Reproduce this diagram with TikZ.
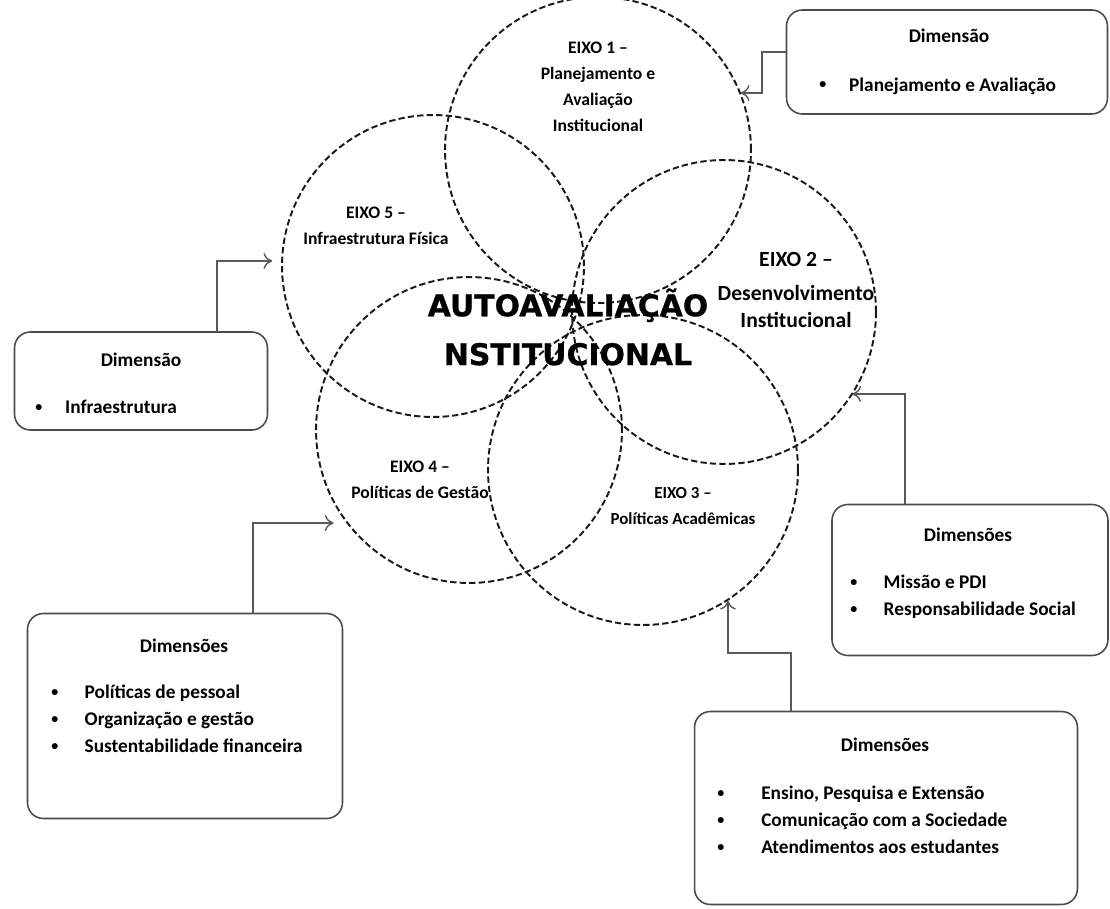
\documentclass[tikz,border=0pt]{standalone}
\usepackage{fontspec}
\setmainfont{Carlito}
\newfontfamily\titlefont[FakeBold=0.8]{DejaVu Sans Bold}
\newcommand{\bul}[1][10pt]{\raisebox{0.12em}{\fontsize{8}{8}\selectfont\textbullet}\hspace{#1}}
\usetikzlibrary{arrows.meta}

\tikzset{
  eixo/.style={circle, draw=black!90, line width=1.1pt, dash pattern=on 3.6pt off 1.8pt, inner sep=0pt},
  dimbox/.style={draw=black!70, line width=0.9pt, rounded corners=9pt, inner sep=0pt},
  boxtitle/.style={font=\bfseries\fontsize{11}{13}\selectfont},
  boxlist/.style={font=\bfseries\fontsize{11}{15.3}\selectfont, align=left, anchor=west, inner sep=0pt},
  eixolabel/.style={font=\bfseries\fontsize{10}{14.7}\selectfont, align=center, inner sep=0pt},
  link/.style={draw=black!65, line width=0.8pt, -{To[length=5pt, width=9pt]}},
}

\begin{document}
\begin{tikzpicture}[x=0.02cm, y=-0.02cm]
\useasboundingbox (0,0) rectangle (1110,909);

% eixos
\node[eixo, minimum size=6.12cm] (e1) at (598,150) {};
\node[eixo, minimum size=6.04cm] (e5) at (433,266) {};
\node[eixo, minimum size=6.08cm] (e2) at (724,312) {};
\node[eixo, minimum size=6.12cm] (e4) at (469,430) {};
\node[eixo, minimum size=6.20cm] (e3) at (643,470) {};

\node[eixolabel] (l1) at (598,87) {EIXO 1 –\\Planejamento e\\Avaliação\\Institucional};
\node[eixolabel] (l5) at (376,226) {EIXO 5 –\\Infraestrutura Física};
\node[eixolabel, font=\bfseries\fontsize{12.3}{15.3}\selectfont] (l2) at (796,290) {EIXO 2 –\\[4pt]Desenvolvimento\\Institucional};
\node[eixolabel] (l4) at (420,480) {EIXO 4 –\\Políticas de Gestão};
\node[eixolabel, font=\bfseries\fontsize{9.6}{14.7}\selectfont] (l3) at (683,506) {EIXO 3 –\\Políticas Acadêmicas};

\node[font=\titlefont\fontsize{17}{27.8}\selectfont, align=center, inner sep=0pt] (auto) at (568,327) {AUTOAVALIAÇÃO\\NSTITUCIONAL};

% dimensoes
\node[dimbox, minimum width=6.42cm, minimum height=2.08cm] (b1) at (947,62) {};
\node[boxtitle] (t1) at (949,36) {Dimensão};
\node[boxlist] (d1) at (819,86) {\bul[13pt]Planejamento e Avaliação};

\node[dimbox, minimum width=5.06cm, minimum height=1.96cm] (b5) at (141,381) {};
\node[boxtitle] (t5) at (141,360) {Dimensão};
\node[boxlist] (d5) at (35,407) {\bul[13pt]Infraestrutura};

\node[dimbox, minimum width=5.52cm, minimum height=3.02cm] (b2) at (970,580) {};
\node[boxtitle] (t2) at (968,535) {Dimensões};
\node[boxlist] (d2) at (850,597) {\bul[15pt]Missão e PDI\\\bul[15pt]Responsabilidade Social};

\node[dimbox, minimum width=6.30cm, minimum height=4.10cm] (b4) at (185,716) {};
\node[boxtitle] (t4) at (184,646) {Dimensões};
\node[boxlist] (d4) at (51,719) {\bul[15pt]Políticas de pessoal\\\bul[15pt]Organização e gestão\\\bul[15pt]Sustentabilidade financeira};

\node[dimbox, minimum width=7.66cm, minimum height=3.86cm] (b3) at (886,808) {};
\node[boxtitle] (t3) at (885,745) {Dimensões};
\node[boxlist] (d3) at (717,820) {\bul[21pt]Ensino, Pesquisa e Extensão\\\bul[21pt]Comunicação com a Sociedade\\\bul[21pt]Atendimentos aos estudantes};

% conectores
\coordinate (c1) at (762,93);
\coordinate (c5) at (217,261);
\coordinate (c2) at (905,394);
\coordinate (c4) at (253,523);
\coordinate (c3) at (791,653);
\coordinate (c3b) at (728,653);

\draw[link] ([yshift=0.2cm]b1.west) -| (c1) -- (e1.22 |- c1);
\draw[link, shorten >=5pt] (c5 |- b5.north) -- (c5) -- (e5.west |- c5);
\draw[link] (c2 |- b2.north) -- (c2) -- (e2.-33 |- c2);
\draw[link, shorten >=8pt] (c4 |- b4.north) -- (c4) -- (e4.-142 |- c4);
\draw[link] (c3 |- b3.north) -- (c3) -- (c3b) -- (c3b |- e3.-57);
\end{tikzpicture}
\end{document}
